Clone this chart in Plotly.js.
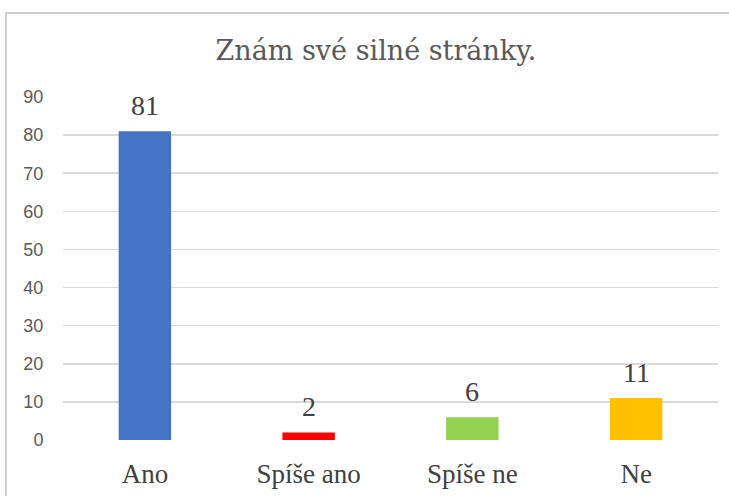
<!DOCTYPE html>
<html>
<head>
<meta charset="utf-8">
<script src="https://cdn.plot.ly/plotly-3.0.1.min.js"></script>
<style>
html,body{margin:0;padding:0;background:#fff;}
#wrap{position:relative;width:729px;height:496px;}
#chart{position:absolute;left:0;top:0;width:729px;height:496px;}
#frame{position:absolute;left:5px;top:12px;width:730px;height:490px;border-left:2px solid #cfcfcf;border-top:2px solid #cfcfcf;pointer-events:none;}
</style>
</head>
<body>
<div id="wrap"><div id="chart"></div><div id="frame"></div></div>
<script>
const categories = ["Ano", "Spíše ano", "Spíše ne", "Ne"];
const values = [81, 2, 6, 11];
const colors = ["#4472C4", "#FF0000", "#92D050", "#FFC000"];
const yTicks = [0, 10, 20, 30, 40, 50, 60, 70, 80, 90];
const chartTitle = "Znám své silné stránky.";

const serif = "Liberation Serif, Times New Roman, serif";
const titleSerif = "DejaVu Serif, Liberation Serif, serif";

const trace = {
  type: "bar",
  x: categories,
  y: values,
  marker: {color: colors},
  hoverinfo: "none"
};

const annotations = categories.map((c, i) => ({
  x: c, y: values[i], xref: "x", yref: "y",
  text: String(values[i]),
  showarrow: false,
  yanchor: "bottom",
  yshift: 8,
  font: {family: serif, size: 28, color: "#404040"}
}));

const layout = {
  width: 729, height: 496,
  margin: {l: 63, r: 11, t: 97, b: 56},
  paper_bgcolor: "#ffffff",
  plot_bgcolor: "#ffffff",
  bargap: 0.68,
  showlegend: false,
  title: {
    text: chartTitle,
    font: {family: titleSerif, size: 27, color: "#595959"},
    x: 376 / 729, xref: "container", xanchor: "center",
    y: 1 - 51 / 496, yref: "container", yanchor: "middle"
  },
  xaxis: {
    type: "category",
    showgrid: false, zeroline: false, showline: false,
    ticks: "outside", ticklen: 10, tickcolor: "rgba(0,0,0,0)",
    tickfont: {family: serif, size: 27, color: "#404040"}
  },
  yaxis: {
    range: [0, 90],
    tickvals: yTicks,
    showgrid: true, gridcolor: "#d9d9d9", gridwidth: 1.5,
    zeroline: false, showline: false,
    ticks: "outside", ticklen: 15, tickcolor: "rgba(0,0,0,0)",
    tickfont: {family: "Liberation Sans, Arial, sans-serif", size: 18, color: "#595959"}
  },
  annotations: annotations
};

Plotly.newPlot("chart", [trace], layout, {displayModeBar: false, staticPlot: true});
</script>
</body>
</html>
